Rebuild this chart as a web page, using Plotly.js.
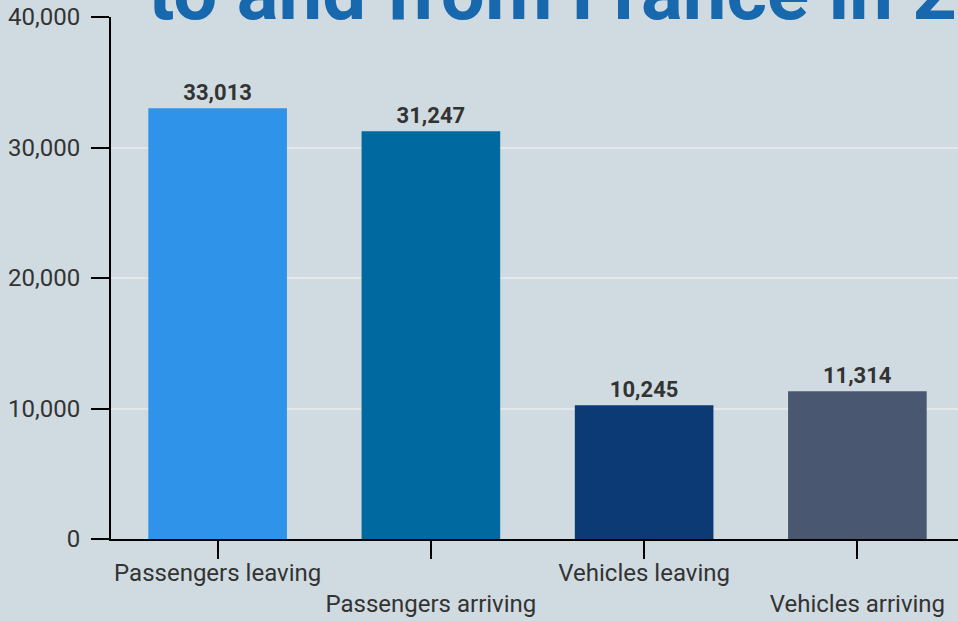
<!DOCTYPE html>
<html>
<head>
<meta charset="utf-8">
<script src="https://cdn.plot.ly/plotly-3.0.1.min.js"></script>
<style>
html,body{margin:0;padding:0;overflow:hidden;background:#d0dbe1;}
#chart{width:964px;height:621px;}
</style>
</head>
<body>
<div id="chart"></div>
<script>
const categories = ["Passengers leaving", "Passengers arriving", "Vehicles leaving", "Vehicles arriving"];
const values = [33013, 31247, 10245, 11314];
const barColors = ["#2f93ea", "#0069a0", "#0b3a74", "#4a5770"];
const tickLabels = ["Passengers leaving", "<br>Passengers arriving", "Vehicles leaving", "<br>Vehicles arriving"];
const titleText = "to and from France in 2023";

const fontFam = "Roboto, 'Liberation Sans', sans-serif";

const trace = {
  type: "bar",
  x: categories,
  y: values,
  marker: {color: barColors},
  text: values.map(v => v.toLocaleString("en-US")),
  textposition: "outside",
  cliponaxis: false,
  textfont: {family: fontFam, size: 22, color: "#333333", weight: 700},
  hoverinfo: "none"
};

const layout = {
  width: 964,
  height: 621,
  margin: {l: 111, r: 0, t: 17, b: 82},
  paper_bgcolor: "#d0dbe1",
  plot_bgcolor: "#d0dbe1",
  bargap: 0.35,
  showlegend: false,
  title: {
    text: titleText,
    font: {family: fontFam, size: 78, color: "#1868ae", weight: 700},
    xref: "container", x: 148/964, xanchor: "left",
    yref: "container", y: 1 - 19/621, yanchor: "bottom"
  },
  xaxis: {
    type: "category",
    tickmode: "array",
    tickvals: categories,
    ticktext: tickLabels,
    tickangle: 0,
    showline: true, linecolor: "#000", linewidth: 2,
    ticks: "outside", ticklen: 18, tickwidth: 2, tickcolor: "#000",
    tickfont: {family: fontFam, size: 24, color: "#333333", lineheight: 1.2},
    ticklabelstandoff: -7,
    showgrid: false
  },
  yaxis: {
    range: [0, 40000],
    dtick: 10000,
    tickformat: ",",
    showline: true, linecolor: "#000", linewidth: 2,
    ticks: "outside", ticklen: 18, tickwidth: 2, tickcolor: "#000",
    tickfont: {family: fontFam, size: 24, color: "#333333"},
    ticklabelstandoff: 6,
    gridcolor: "#e4e6e8", gridwidth: 2,
    zeroline: false
  }
};

Plotly.newPlot("chart", [trace], layout, {displayModeBar: false, staticPlot: true});
</script>
</body>
</html>
